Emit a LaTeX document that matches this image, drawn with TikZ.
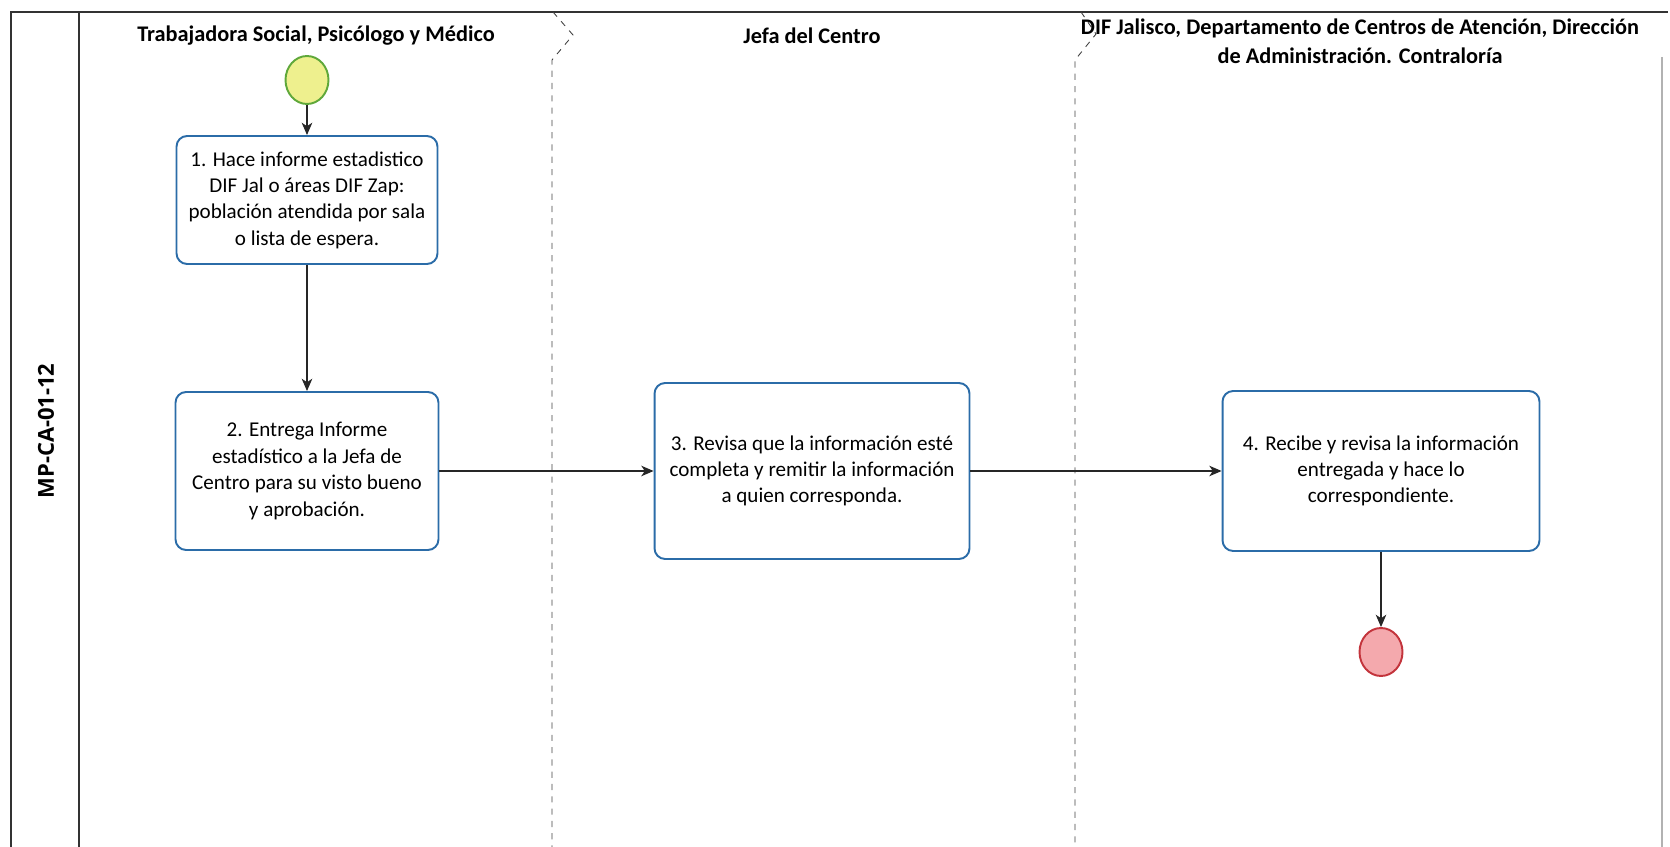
\documentclass[tikz,border=0pt]{standalone}
\usepackage{fontspec}
\setmainfont{Carlito}
\newfontfamily\codefont{Open Sans}
\usepackage{tikz}
\usetikzlibrary{arrows.meta,shapes.geometric}

\definecolor{taskblue}{HTML}{2B6CA8}
\definecolor{startfill}{HTML}{EEF08E}
\definecolor{startdraw}{HTML}{5FA83A}
\definecolor{endfill}{HTML}{F4A9AD}
\definecolor{enddraw}{HTML}{C3343C}

\begin{document}
\begin{tikzpicture}
	[x=0.02cm,y=-0.02cm,every node/.style={inner sep=0pt},
	task/.style={draw=taskblue,line width=1.1pt,rounded corners=6pt,fill=white,align=center,font=\fontsize{12}{15}\selectfont},
	lane/.style={align=center,font=\bfseries\fontsize{12.7}{16.3}\selectfont},
	event/.style={ellipse,minimum width=0.86cm,minimum height=0.96cm,line width=1.1pt},
	divider/.style={black!75,line width=0.5pt,dash pattern=on 3.5pt off 3.5pt},
	flow/.style={-{Stealth[length=7pt,width=6pt,inset=2pt]},line width=0.7pt,black!85}]
	\useasboundingbox (0,0) rectangle (1670,847);

	\draw[line width=1pt,black!80] (11,847) -- (11,12) -- (1668,12);
	\draw[line width=1pt,black!80] (79,12) -- (79,847);
	\draw[line width=0.6pt,gray!60] (1662,57) -- (1662,847);
	\draw[divider] (553,12) -- (573,35) -- (552,60) -- (552,847);
	\draw[divider] (1081,12) -- (1096,34) -- (1075,60) -- (1075,847);

	\node[rotate=90,font=\codefont\bfseries\fontsize{12.5}{15}\selectfont] (code) at (46,431) {MP-CA-01-12};

	\node[lane] (lane1) at (316,36) {Trabajadora Social, Psicólogo y Médico};
	\node[lane] (lane2) at (812,36) {Jefa del Centro};
	\node[lane] (lane3) at (1360,41) {DIF Jalisco, Departamento de Centros de Atención, Dirección\\de Administración. Contraloría};

	\node[event,draw=startdraw,fill=startfill] (start) at (307,80) {};
	\node[task,minimum width=5.22cm,minimum height=2.56cm] (t1) at (307,200) {1. Hace informe estadistico\\DIF Jal o áreas DIF Zap:\\población atendida por sala\\o lista de espera.};
	\node[task,minimum width=5.26cm,minimum height=3.16cm] (t2) at (307,471) {2. Entrega Informe\\estadístico a la Jefa de\\Centro para su visto bueno\\y aprobación.};
	\node[task,minimum width=6.3cm,minimum height=3.52cm] (t3) at (812,471) {3. Revisa que la información esté\\completa y remitir la información\\a quien corresponda.};
	\node[task,minimum width=6.34cm,minimum height=3.2cm] (t4) at (1381,471) {4. Recibe y revisa la información\\entregada y hace lo\\correspondiente.};
	\node[event,draw=enddraw,fill=endfill] (end) at (1381,652) {};

	\foreach \from/\to in {start/t1,t1/t2,t2/t3,t3/t4,t4/end}
	\draw[flow] (\from) -- (\to);
\end{tikzpicture}
\end{document}
